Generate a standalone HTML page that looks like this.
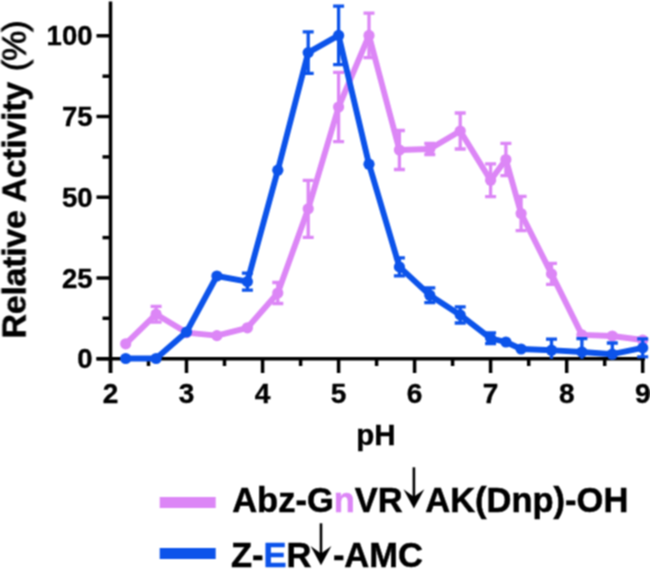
<!DOCTYPE html>
<html><head><meta charset="utf-8"><style>
html,body{margin:0;padding:0;background:#fff;width:650px;height:570px;overflow:hidden}
svg{display:block;font-family:"Liberation Sans",sans-serif;will-change:transform}
</style></head><body>
<svg width="650" height="570" viewBox="0 0 650 570" font-family="Liberation Sans, sans-serif" font-weight="bold" font-size="28">
<defs><clipPath id="pc"><rect x="0" y="0" width="650" height="358.7"/></clipPath><filter id="bl" filterUnits="userSpaceOnUse" x="0" y="0" width="650" height="570" color-interpolation-filters="sRGB"><feConvolveMatrix order="3" kernelMatrix="1 2 1 2 4 2 1 2 1" divisor="16" edgeMode="duplicate"/></filter></defs>
<rect width="650" height="570" fill="#fff"/>
<g filter="url(#bl)">
<line x1="110.5" y1="1.4" x2="110.5" y2="373" stroke="#000" stroke-width="3.5"/>
<line x1="96.5" y1="358.7" x2="645" y2="358.7" stroke="#000" stroke-width="3.5"/>
<line x1="96.5" y1="358.7" x2="110.5" y2="358.7" stroke="#000" stroke-width="3.5"/>
<line x1="96.5" y1="278.0" x2="110.5" y2="278.0" stroke="#000" stroke-width="3.5"/>
<line x1="96.5" y1="197.2" x2="110.5" y2="197.2" stroke="#000" stroke-width="3.5"/>
<line x1="96.5" y1="116.5" x2="110.5" y2="116.5" stroke="#000" stroke-width="3.5"/>
<line x1="96.5" y1="35.8" x2="110.5" y2="35.8" stroke="#000" stroke-width="3.5"/>
<line x1="102.5" y1="318.3" x2="110.5" y2="318.3" stroke="#000" stroke-width="3.5"/>
<line x1="102.5" y1="237.6" x2="110.5" y2="237.6" stroke="#000" stroke-width="3.5"/>
<line x1="102.5" y1="156.9" x2="110.5" y2="156.9" stroke="#000" stroke-width="3.5"/>
<line x1="102.5" y1="76.2" x2="110.5" y2="76.2" stroke="#000" stroke-width="3.5"/>
<line x1="110.5" y1="358.7" x2="110.5" y2="373" stroke="#000" stroke-width="3.5"/>
<line x1="186.5" y1="358.7" x2="186.5" y2="373" stroke="#000" stroke-width="3.5"/>
<line x1="262.6" y1="358.7" x2="262.6" y2="373" stroke="#000" stroke-width="3.5"/>
<line x1="338.6" y1="358.7" x2="338.6" y2="373" stroke="#000" stroke-width="3.5"/>
<line x1="414.6" y1="358.7" x2="414.6" y2="373" stroke="#000" stroke-width="3.5"/>
<line x1="490.6" y1="358.7" x2="490.6" y2="373" stroke="#000" stroke-width="3.5"/>
<line x1="566.7" y1="358.7" x2="566.7" y2="373" stroke="#000" stroke-width="3.5"/>
<line x1="642.7" y1="358.7" x2="642.7" y2="373" stroke="#000" stroke-width="3.5"/>
<line x1="148.5" y1="358.7" x2="148.5" y2="366" stroke="#000" stroke-width="3.5"/>
<line x1="224.5" y1="358.7" x2="224.5" y2="366" stroke="#000" stroke-width="3.5"/>
<line x1="300.6" y1="358.7" x2="300.6" y2="366" stroke="#000" stroke-width="3.5"/>
<line x1="376.6" y1="358.7" x2="376.6" y2="366" stroke="#000" stroke-width="3.5"/>
<line x1="452.6" y1="358.7" x2="452.6" y2="366" stroke="#000" stroke-width="3.5"/>
<line x1="528.7" y1="358.7" x2="528.7" y2="366" stroke="#000" stroke-width="3.5"/>
<line x1="604.7" y1="358.7" x2="604.7" y2="366" stroke="#000" stroke-width="3.5"/>
<polyline points="125.7,343.8 156.1,314.2 186.5,332.6 216.9,335.6 247.4,327.8 277.8,293.0 308.2,208.8 338.6,107.0 369.0,35.4 399.4,150.0 429.8,149.0 460.2,131.0 490.6,180.3 505.9,159.5 521.1,213.5 551.5,273.9 581.9,334.9 612.3,336.0 642.7,340.0" fill="none" stroke="#dc86f6" stroke-width="5.9" stroke-linejoin="round" stroke-linecap="round"/>
<circle cx="125.7" cy="343.8" r="5.6" fill="#dc86f6"/>
<path clip-path="url(#pc)" d="M156.1,306.3V322.1M150.6,306.3H161.6M150.6,322.1H161.6" stroke="#dc86f6" stroke-width="3.3" fill="none"/>
<circle cx="156.1" cy="314.2" r="5.6" fill="#dc86f6"/>
<circle cx="186.5" cy="332.6" r="5.6" fill="#dc86f6"/>
<circle cx="216.9" cy="335.6" r="5.6" fill="#dc86f6"/>
<circle cx="247.4" cy="327.8" r="5.6" fill="#dc86f6"/>
<path clip-path="url(#pc)" d="M277.8,282.5V303.5M272.3,282.5H283.3M272.3,303.5H283.3" stroke="#dc86f6" stroke-width="3.3" fill="none"/>
<circle cx="277.8" cy="293.0" r="5.6" fill="#dc86f6"/>
<path clip-path="url(#pc)" d="M308.2,180.3V237.3M302.7,180.3H313.7M302.7,237.3H313.7" stroke="#dc86f6" stroke-width="3.3" fill="none"/>
<circle cx="308.2" cy="208.8" r="5.6" fill="#dc86f6"/>
<path clip-path="url(#pc)" d="M338.6,72.3V141.7M333.1,72.3H344.1M333.1,141.7H344.1" stroke="#dc86f6" stroke-width="3.3" fill="none"/>
<circle cx="338.6" cy="107.0" r="5.6" fill="#dc86f6"/>
<path clip-path="url(#pc)" d="M369.0,13.1V57.7M363.5,13.1H374.5M363.5,57.7H374.5" stroke="#dc86f6" stroke-width="3.3" fill="none"/>
<circle cx="369.0" cy="35.4" r="5.6" fill="#dc86f6"/>
<path clip-path="url(#pc)" d="M399.4,130.5V169.5M393.9,130.5H404.9M393.9,169.5H404.9" stroke="#dc86f6" stroke-width="3.3" fill="none"/>
<circle cx="399.4" cy="150.0" r="5.6" fill="#dc86f6"/>
<path clip-path="url(#pc)" d="M429.8,143.5V154.5M424.3,143.5H435.3M424.3,154.5H435.3" stroke="#dc86f6" stroke-width="3.3" fill="none"/>
<circle cx="429.8" cy="149.0" r="5.6" fill="#dc86f6"/>
<path clip-path="url(#pc)" d="M460.2,113.0V149.0M454.7,113.0H465.7M454.7,149.0H465.7" stroke="#dc86f6" stroke-width="3.3" fill="none"/>
<circle cx="460.2" cy="131.0" r="5.6" fill="#dc86f6"/>
<path clip-path="url(#pc)" d="M490.6,163.9V196.7M485.1,163.9H496.1M485.1,196.7H496.1" stroke="#dc86f6" stroke-width="3.3" fill="none"/>
<circle cx="490.6" cy="180.3" r="5.6" fill="#dc86f6"/>
<path clip-path="url(#pc)" d="M505.9,143.3V175.7M500.4,143.3H511.4M500.4,175.7H511.4" stroke="#dc86f6" stroke-width="3.3" fill="none"/>
<circle cx="505.9" cy="159.5" r="5.6" fill="#dc86f6"/>
<path clip-path="url(#pc)" d="M521.1,196.3V230.7M515.6,196.3H526.6M515.6,230.7H526.6" stroke="#dc86f6" stroke-width="3.3" fill="none"/>
<circle cx="521.1" cy="213.5" r="5.6" fill="#dc86f6"/>
<path clip-path="url(#pc)" d="M551.5,263.4V284.4M546.0,263.4H557.0M546.0,284.4H557.0" stroke="#dc86f6" stroke-width="3.3" fill="none"/>
<circle cx="551.5" cy="273.9" r="5.6" fill="#dc86f6"/>
<circle cx="581.9" cy="334.9" r="5.6" fill="#dc86f6"/>
<circle cx="612.3" cy="336.0" r="5.6" fill="#dc86f6"/>
<circle cx="642.7" cy="340.0" r="5.6" fill="#dc86f6"/>
<polyline points="125.7,358.5 156.1,358.5 186.5,332.0 216.9,276.0 247.4,281.6 277.8,170.2 308.2,52.6 338.6,35.4 369.0,164.2 399.4,266.9 429.8,295.2 460.2,314.9 490.6,338.3 505.9,342.0 521.1,349.0 551.5,350.2 581.9,352.0 612.3,354.2 642.7,347.9" fill="none" stroke="#0c53ea" stroke-width="5.9" stroke-linejoin="round" stroke-linecap="round"/>
<circle cx="125.7" cy="358.5" r="5.6" fill="#0c53ea"/>
<circle cx="156.1" cy="358.5" r="5.6" fill="#0c53ea"/>
<circle cx="186.5" cy="332.0" r="5.6" fill="#0c53ea"/>
<circle cx="216.9" cy="276.0" r="5.6" fill="#0c53ea"/>
<path clip-path="url(#pc)" d="M247.4,273.1V290.1M241.9,273.1H252.9M241.9,290.1H252.9" stroke="#0c53ea" stroke-width="3.3" fill="none"/>
<circle cx="247.4" cy="281.6" r="5.6" fill="#0c53ea"/>
<circle cx="277.8" cy="170.2" r="5.6" fill="#0c53ea"/>
<path clip-path="url(#pc)" d="M308.2,31.9V73.3M302.7,31.9H313.7M302.7,73.3H313.7" stroke="#0c53ea" stroke-width="3.3" fill="none"/>
<circle cx="308.2" cy="52.6" r="5.6" fill="#0c53ea"/>
<path clip-path="url(#pc)" d="M338.6,6.1V64.7M333.1,6.1H344.1M333.1,64.7H344.1" stroke="#0c53ea" stroke-width="3.3" fill="none"/>
<circle cx="338.6" cy="35.4" r="5.6" fill="#0c53ea"/>
<circle cx="369.0" cy="164.2" r="5.6" fill="#0c53ea"/>
<path clip-path="url(#pc)" d="M399.4,257.9V275.9M393.9,257.9H404.9M393.9,275.9H404.9" stroke="#0c53ea" stroke-width="3.3" fill="none"/>
<circle cx="399.4" cy="266.9" r="5.6" fill="#0c53ea"/>
<path clip-path="url(#pc)" d="M429.8,287.8V302.6M424.3,287.8H435.3M424.3,302.6H435.3" stroke="#0c53ea" stroke-width="3.3" fill="none"/>
<circle cx="429.8" cy="295.2" r="5.6" fill="#0c53ea"/>
<path clip-path="url(#pc)" d="M460.2,306.8V323.0M454.7,306.8H465.7M454.7,323.0H465.7" stroke="#0c53ea" stroke-width="3.3" fill="none"/>
<circle cx="460.2" cy="314.9" r="5.6" fill="#0c53ea"/>
<path clip-path="url(#pc)" d="M490.6,332.9V343.7M485.1,332.9H496.1M485.1,343.7H496.1" stroke="#0c53ea" stroke-width="3.3" fill="none"/>
<circle cx="490.6" cy="338.3" r="5.6" fill="#0c53ea"/>
<circle cx="505.9" cy="342.0" r="5.6" fill="#0c53ea"/>
<circle cx="521.1" cy="349.0" r="5.6" fill="#0c53ea"/>
<path clip-path="url(#pc)" d="M551.5,339.2V361.2M546.0,339.2H557.0M546.0,361.2H557.0" stroke="#0c53ea" stroke-width="3.3" fill="none"/>
<circle cx="551.5" cy="350.2" r="5.6" fill="#0c53ea"/>
<path clip-path="url(#pc)" d="M581.9,338.6V365.4M576.4,338.6H587.4M576.4,365.4H587.4" stroke="#0c53ea" stroke-width="3.3" fill="none"/>
<circle cx="581.9" cy="352.0" r="5.6" fill="#0c53ea"/>
<path clip-path="url(#pc)" d="M612.3,343.0V365.4M606.8,343.0H617.8M606.8,365.4H617.8" stroke="#0c53ea" stroke-width="3.3" fill="none"/>
<circle cx="612.3" cy="354.2" r="5.6" fill="#0c53ea"/>
<path clip-path="url(#pc)" d="M642.7,338.9V356.9M637.2,338.9H648.2M637.2,356.9H648.2" stroke="#0c53ea" stroke-width="3.3" fill="none"/>
<circle cx="642.7" cy="347.9" r="5.6" fill="#0c53ea"/>
<text x="92.5" y="368.2" text-anchor="end" font-size="27.5" stroke="#000" stroke-width="0.35">0</text>
<text x="92.5" y="287.5" text-anchor="end" font-size="27.5" stroke="#000" stroke-width="0.35">25</text>
<text x="92.5" y="206.7" text-anchor="end" font-size="27.5" stroke="#000" stroke-width="0.35">50</text>
<text x="92.5" y="126.0" text-anchor="end" font-size="27.5" stroke="#000" stroke-width="0.35">75</text>
<text x="92.5" y="45.3" text-anchor="end" font-size="27.5" stroke="#000" stroke-width="0.35">100</text>
<text x="110.5" y="403.2" text-anchor="middle" stroke="#000" stroke-width="0.35">2</text>
<text x="186.5" y="403.2" text-anchor="middle" stroke="#000" stroke-width="0.35">3</text>
<text x="262.6" y="403.2" text-anchor="middle" stroke="#000" stroke-width="0.35">4</text>
<text x="338.6" y="403.2" text-anchor="middle" stroke="#000" stroke-width="0.35">5</text>
<text x="414.6" y="403.2" text-anchor="middle" stroke="#000" stroke-width="0.35">6</text>
<text x="490.6" y="403.2" text-anchor="middle" stroke="#000" stroke-width="0.35">7</text>
<text x="566.7" y="403.2" text-anchor="middle" stroke="#000" stroke-width="0.35">8</text>
<text x="642.7" y="403.2" text-anchor="middle" stroke="#000" stroke-width="0.35">9</text>
<text x="376" y="444.8" text-anchor="middle" font-size="29.5" stroke="#000" stroke-width="0.4">pH</text>
<text transform="translate(25.6,180) rotate(-90)" text-anchor="middle" font-size="34" letter-spacing="-0.3" stroke="#000" stroke-width="0.5">Relative Activity <tspan font-weight="normal" stroke-width="0.9" dx="1.8" letter-spacing="-1.1">(%)</tspan></text>
<rect x="159.7" y="497" width="56" height="11" fill="#dc86f6"/>
<rect x="159.7" y="548" width="56" height="11" fill="#0c53ea"/>
<g transform="translate(232.2,511.8) scale(1,1.04)"><text x="0" y="0" font-size="34.5" stroke="#000" stroke-width="0.5">Abz-G<tspan fill="#dc86f6" stroke="#dc86f6">n</tspan>VR<tspan dx="22.5">AK(Dnp)-OH</tspan></text></g>
<line x1="413.9" y1="467.3" x2="413.9" y2="502.5" stroke="#000" stroke-width="2.6"/><path d="M403.5,489.2 L413.9,508.5 L424.3,489.2 L413.9,496.7 Z" fill="#000"/>
<g transform="translate(230.9,566.7) scale(1,1.04)"><text x="0" y="0" font-size="34.5" stroke="#000" stroke-width="0.5">Z-<tspan fill="#0c53ea" stroke="#0c53ea">E</tspan>R<tspan dx="21.5">-AMC</tspan></text></g>
<line x1="321" y1="523.3" x2="321" y2="559.2" stroke="#000" stroke-width="2.6"/><path d="M310.6,545.9 L321,565.2 L331.4,545.9 L321,553.4 Z" fill="#000"/>
</g>
</svg>
</body></html>
